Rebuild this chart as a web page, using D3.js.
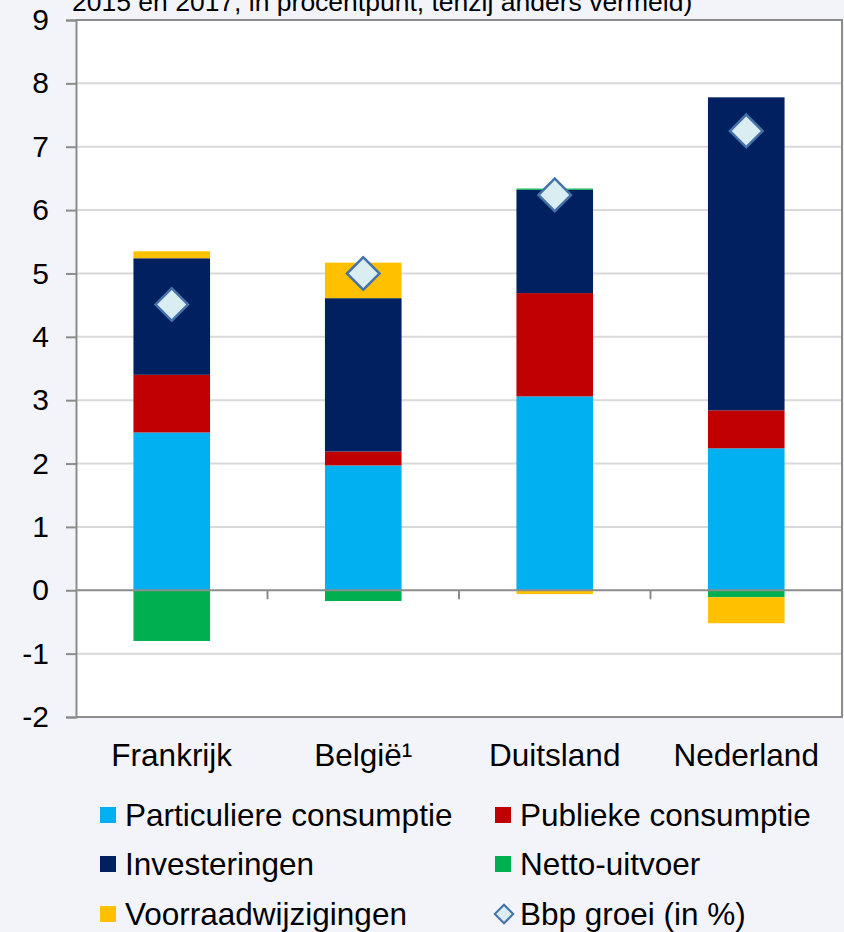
<!DOCTYPE html>
<html>
<head>
<meta charset="utf-8">
<script src="https://cdn.jsdelivr.net/npm/d3@7"></script>
<style>
  html, body { margin: 0; padding: 0; background: #f3f4fa; }
  svg { display: block; font-family: "Liberation Sans", Arial, sans-serif; }
</style>
</head>
<body>
<svg id="chart" width="844" height="932"></svg>
<script>
const categories = ["Frankrijk", "België¹", "Duitsland", "Nederland"];
const particuliereConsumptie = [2.49, 1.97, 3.06, 2.24];
const publiekeConsumptie = [0.91, 0.22, 1.63, 0.60];
const investeringen = [1.84, 2.42, 1.63, 4.94];
const nettoUitvoer = [-0.80, -0.17, 0.02, -0.11];
const voorraadwijzigingen = [0.11, 0.56, -0.06, -0.41];
const bbpGroei = [4.51, 5.00, 6.24, 7.25];
const yTicks = [-2, -1, 0, 1, 2, 3, 4, 5, 6, 7, 8, 9];

const seriesKeys = ["part", "pub", "inv", "netto", "voorr"];
const seriesNames = {
  part: "Particuliere consumptie",
  pub: "Publieke consumptie",
  inv: "Investeringen",
  netto: "Netto-uitvoer",
  voorr: "Voorraadwijzigingen"
};
const colors = {
  part: "#00b0f0",
  pub: "#c00000",
  inv: "#002060",
  netto: "#00b050",
  voorr: "#ffc000"
};

const table = categories.map((c, i) => ({
  cat: c,
  part: particuliereConsumptie[i],
  pub: publiekeConsumptie[i],
  inv: investeringen[i],
  netto: nettoUitvoer[i],
  voorr: voorraadwijzigingen[i],
  bbp: bbpGroei[i]
}));

const svg = d3.select("#chart");
const pLeft = 76, pRight = 842, pTop = 20, pBottom = 717;

const x = d3.scaleBand().domain(categories).range([pLeft, pRight]).paddingInner(0.6).paddingOuter(0.3);
const y = d3.scaleLinear().domain([-2, 9]).range([pBottom, pTop]);

// title (clipped at top, as in the reference)
svg.append("text")
  .attr("x", 72).attr("y", 11)
  .attr("font-size", 26.5).attr("fill", "#000")
  .text("2015 en 2017, in procentpunt, tenzij anders vermeld)");

// plot background
svg.append("rect").attr("x", pLeft).attr("y", pTop)
  .attr("width", pRight - pLeft).attr("height", pBottom - pTop).attr("fill", "#fff");

// gridlines
svg.append("g").selectAll("line").data(yTicks.filter(t => t !== 0 && t !== 9 && t !== -2)).join("line")
  .attr("x1", pLeft).attr("x2", pRight)
  .attr("y1", d => y(d)).attr("y2", d => y(d))
  .attr("stroke", "#d9d9d9").attr("stroke-width", 2);

// bars
const stack = d3.stack().keys(seriesKeys).offset(d3.stackOffsetDiverging);
const stacked = stack(table);
svg.append("g").selectAll("g").data(stacked).join("g")
  .attr("fill", d => colors[d.key])
  .selectAll("rect").data(d => d).join("rect")
  .attr("x", d => x(d.data.cat))
  .attr("width", x.bandwidth())
  .attr("y", d => y(Math.max(d[0], d[1])))
  .attr("height", d => Math.abs(y(d[0]) - y(d[1])));

// border (top, right, bottom)
svg.append("path")
  .attr("d", `M${pLeft},${pTop}H${pRight}V${pBottom}H${pLeft}`)
  .attr("fill", "none").attr("stroke", "#8c8c8c").attr("stroke-width", 2);

// zero axis
svg.append("line").attr("x1", pLeft).attr("x2", pRight)
  .attr("y1", y(0)).attr("y2", y(0))
  .attr("stroke", "#8c8c8c").attr("stroke-width", 2);

// x ticks between categories
const step = x.step();
svg.append("g").selectAll("line").data(categories.slice(1)).join("line")
  .attr("x1", d => x(d) - x.paddingInner() * step / 2)
  .attr("x2", d => x(d) - x.paddingInner() * step / 2)
  .attr("y1", y(0)).attr("y2", y(0) + 9)
  .attr("stroke", "#8c8c8c").attr("stroke-width", 2);

// y axis
const yAxis = d3.axisLeft(y).tickValues(yTicks).tickSize(10).tickPadding(17).tickFormat(d => String(d));
const ya = svg.append("g").attr("transform", `translate(${pLeft},0)`).call(yAxis);
ya.attr("font-size", null).attr("font-family", null);
ya.select(".domain").attr("stroke", "#8c8c8c").attr("stroke-width", 2);
ya.selectAll(".tick line").attr("stroke", "#8c8c8c").attr("stroke-width", 2);
ya.selectAll(".tick text").attr("font-size", 30).attr("fill", "#000");

// diamonds
const diamond = d3.symbol().type(d3.symbolSquare).size(530);
svg.append("g").selectAll("path").data(table).join("path")
  .attr("d", diamond)
  .attr("transform", d => `translate(${x(d.cat) + x.bandwidth() / 2},${y(d.bbp)}) rotate(45)`)
  .attr("fill", "#daedf2").attr("stroke", "#4472a8").attr("stroke-width", 2.5);

// category labels
svg.append("g").selectAll("text").data(categories).join("text")
  .attr("x", d => x(d) + x.bandwidth() / 2)
  .attr("y", 766)
  .attr("text-anchor", "middle")
  .attr("font-size", 31.5).attr("fill", "#000")
  .text(d => d);

// legend
const legendItems = [
  { key: "part", col: 0, row: 0 },
  { key: "pub", col: 1, row: 0 },
  { key: "inv", col: 0, row: 1 },
  { key: "netto", col: 1, row: 1 },
  { key: "voorr", col: 0, row: 2 },
  { key: "bbp", col: 1, row: 2 }
];
const colX = [100, 495];
const rowY = [815, 864, 914];
const lg = svg.append("g");
legendItems.forEach(it => {
  const cx = colX[it.col], cy = rowY[it.row];
  if (it.key === "bbp") {
    lg.append("path")
      .attr("d", d3.symbol().type(d3.symbolSquare).size(170)())
      .attr("transform", `translate(${cx + 9},${cy}) rotate(45)`)
      .attr("fill", "#daedf2").attr("stroke", "#4472a8").attr("stroke-width", 2);
  } else {
    lg.append("rect").attr("x", cx).attr("y", cy - 8).attr("width", 16).attr("height", 16)
      .attr("fill", colors[it.key]);
  }
  lg.append("text")
    .attr("x", cx + 25).attr("y", cy + 11)
    .attr("font-size", 31.5).attr("fill", "#000")
    .text(it.key === "bbp" ? "Bbp groei (in %)" : seriesNames[it.key]);
});
</script>
</body>
</html>
